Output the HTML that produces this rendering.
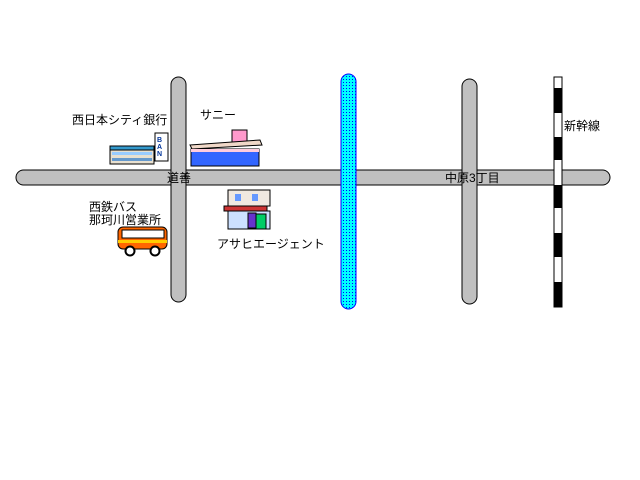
<!DOCTYPE html>
<html><head><meta charset="utf-8"><style>
html,body{margin:0;padding:0;background:#fff;width:640px;height:480px;overflow:hidden}
text{font-family:"Liberation Sans","Noto Sans CJK JP",sans-serif;font-size:12px;fill:#000}
</style></head><body>
<svg width="640" height="480" xmlns="http://www.w3.org/2000/svg">
<defs>
<pattern id="dots" width="3" height="3" patternUnits="userSpaceOnUse">
<rect width="3" height="3" fill="#00ffff"/><rect x="1" y="1" width="1" height="1" fill="#0000ff"/>
</pattern>
</defs>
<!-- roads outlines -->
<rect x="16" y="170" width="594" height="15" rx="7.5" fill="#c0c0c0" stroke="#000" stroke-width="1"/>
<rect x="171" y="77" width="15" height="225" rx="7.5" fill="#c0c0c0" stroke="#000"/>
<rect x="462" y="79" width="15" height="225" rx="7.5" fill="#c0c0c0" stroke="#000"/>
<!-- merge intersections -->
<rect x="172" y="171" width="13" height="13" fill="#c0c0c0"/>
<rect x="463" y="171" width="13" height="13" fill="#c0c0c0"/>
<!-- river -->
<rect x="341" y="74" width="15" height="235" rx="7.5" fill="url(#dots)" stroke="#0000ff"/>
<!-- rail -->
<rect x="554" y="77" width="8" height="230" fill="#fff" stroke="#000"/>
<g fill="#000">
<rect x="554" y="88" width="8" height="25"/>
<rect x="554" y="137" width="8" height="23"/>
<rect x="554" y="185" width="8" height="23"/>
<rect x="554" y="233" width="8" height="24"/>
<rect x="554" y="282" width="8" height="25"/>
</g>
<!-- labels -->
<text x="72" y="124">西日本シティ銀行</text>
<text x="200" y="119">サニー</text>
<text x="167" y="182">道善</text>
<text x="445" y="182">中原3丁目</text>
<text x="564" y="130">新幹線</text>
<text x="89" y="211">西鉄バス</text>
<text x="89" y="224">那珂川営業所</text>
<text x="217" y="248">アサヒエージェント</text>
<!-- bank -->
<rect x="110" y="148" width="44" height="16" fill="#e8e0d0" stroke="#000"/>
<rect x="110" y="146" width="44" height="4" fill="#3399cc" stroke="#000"/>
<rect x="112" y="152" width="40" height="3" fill="#99ccff"/>
<rect x="112" y="158" width="40" height="3" fill="#6699cc"/>
<rect x="155" y="133" width="13" height="28" fill="#fff" stroke="#000"/>
<text x="157" y="142" style="font-size:7px;font-weight:bold;fill:#003399">B</text>
<text x="157" y="149" style="font-size:7px;font-weight:bold;fill:#003399">A</text>
<text x="157" y="156" style="font-size:7px;font-weight:bold;fill:#003399">N</text>
<!-- sunny -->
<rect x="232" y="130" width="15" height="12" fill="#ff99cc" stroke="#000"/>
<polygon points="190,145 260,140 262,145 192,149" fill="#f0d8c8" stroke="#000"/>
<rect x="191" y="149" width="68" height="17" fill="#3366ff" stroke="#000"/>
<rect x="191" y="149" width="68" height="3" fill="#ffccdd"/>
<!-- asahi building -->
<rect x="228" y="190" width="42" height="16" fill="#f0e8e0" stroke="#000"/>
<rect x="235" y="194" width="6" height="7" fill="#6699ff"/>
<rect x="252" y="194" width="6" height="7" fill="#6699ff"/>
<rect x="224" y="206" width="43" height="5" fill="#cc3333" stroke="#000"/>
<rect x="228" y="211" width="42" height="18" fill="#cce0ff" stroke="#000"/>
<rect x="248" y="213" width="8" height="15" fill="#6633cc" stroke="#000"/>
<rect x="256" y="214" width="10" height="15" fill="#00cc66" stroke="#000"/>
<!-- bus -->
<rect x="118" y="227" width="49" height="22" rx="5" fill="#ff6600" stroke="#000"/>
<rect x="122" y="230" width="42" height="8" fill="#fff" stroke="#000"/>
<rect x="118" y="240" width="49" height="3" fill="#ffcc00"/>
<circle cx="130" cy="251" r="4.5" fill="#fff" stroke="#000" stroke-width="2"/>
<circle cx="155" cy="251" r="4.5" fill="#fff" stroke="#000" stroke-width="2"/>
</svg>
</body></html>
